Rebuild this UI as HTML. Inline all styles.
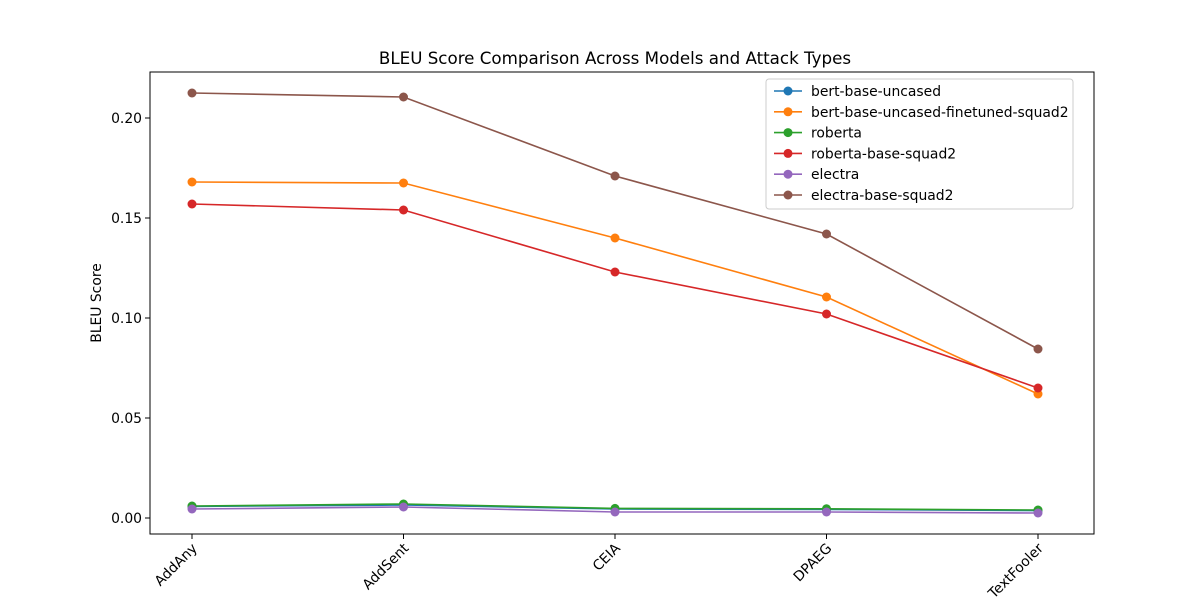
<!DOCTYPE html>
<html><head><meta charset="utf-8"><style>body{margin:0;background:#fff}svg{font-family:"DejaVu Sans","Liberation Sans",sans-serif}</style></head>
<body>
<svg id="c" width="1200" height="600"></svg>
<script>
const categories=["AddAny","AddSent","CEIA","DPAEG","TextFooler"];
const seriesNames=["bert-base-uncased","bert-base-uncased-finetuned-squad2","roberta","roberta-base-squad2","electra","electra-base-squad2"];
const bertBase=[0.0058,0.0065,0.0045,0.0043,0.0037];
const bertFt=[0.168,0.1675,0.14,0.1105,0.062];
const roberta=[0.006,0.007,0.0048,0.0046,0.004];
const robertaSq=[0.157,0.154,0.123,0.102,0.065];
const electra=[0.0045,0.0055,0.003,0.003,0.0025];
const electraSq=[0.2125,0.2105,0.171,0.142,0.0845];
const yTicks=[0,0.05,0.1,0.15,0.2];
const yTickLabels=["0.00","0.05","0.10","0.15","0.20"];
const colors=["#1f77b4","#ff7f0e","#2ca02c","#d62728","#9467bd","#8c564b"];
const series=[bertBase,bertFt,roberta,robertaSq,electra,electraSq];
const L=150,R=1094,T=72,B=534;
const x=i=>192+i*211.5;
const y=v=>518-v*2000;
const s=document.getElementById('c');const NS="http://www.w3.org/2000/svg";
function mk(t,a,p){const e=document.createElementNS(NS,t);for(const k in a)e.setAttribute(k,a[k]);(p||s).appendChild(e);return e;}
let t=mk('text',{x:615,y:64,'text-anchor':'middle','font-size':16.7});t.textContent="BLEU Score Comparison Across Models and Attack Types";

yTicks.forEach((v,i)=>{mk('line',{x1:L-5,x2:L,y1:y(v),y2:y(v),stroke:'#000'});
const e=mk('text',{x:L-8,y:y(v)+5,'text-anchor':'end','font-size':13.9});e.textContent=yTickLabels[i];
});
categories.forEach((c,i)=>{mk('line',{x1:x(i),x2:x(i),y1:B,y2:B+5,stroke:'#000'});
const e=mk('text',{'text-anchor':'end','font-size':13.9,transform:`translate(${x(i)+6},${B+15}) rotate(-45)`});e.textContent=c;
});
t=mk('text',{'text-anchor':'middle','font-size':13.9,transform:`translate(101,303) rotate(-90)`});t.textContent="BLEU Score";

series.forEach((d,k)=>{const g=mk('g',{});
mk('polyline',{points:d.map((v,i)=>x(i)+','+y(v)).join(' '),fill:'none',stroke:colors[k],'stroke-width':1.6},g);
d.forEach((v,i)=>{const c=mk('circle',{cx:x(i),cy:y(v),r:4.5,fill:colors[k]},g);});});
const a=mk('rect',{x:L,y:T,width:R-L,height:B-T,fill:'none',stroke:'#000','stroke-width':1});
const lg=mk('g',{});
mk('rect',{x:766,y:79,width:307,height:130,rx:3,fill:'#fff',stroke:'#ccc'},lg);
seriesNames.forEach((n,k)=>{const yy=91+k*20.8;
mk('line',{x1:774,x2:802,y1:yy,y2:yy,stroke:colors[k],'stroke-width':1.6},lg);
mk('circle',{cx:788,cy:yy,r:4.5,fill:colors[k]},lg);
const e=mk('text',{x:811,y:yy+5,'font-size':13.9},lg);e.textContent=n;
});
</script>
</body></html>
